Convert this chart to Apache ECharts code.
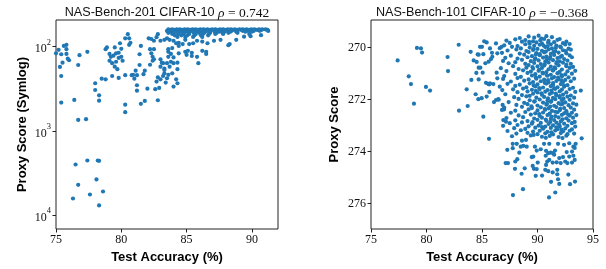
<!DOCTYPE html>
<html><head><meta charset="utf-8">
<script src="https://cdn.jsdelivr.net/npm/echarts@6/dist/echarts.min.js"></script>
<style>html,body{margin:0;padding:0;background:#fff}#c{width:606px;height:269px}</style>
</head><body><div id="c"></div><script>
// ---------------- data ----------------
const nb201XTicks = [75, 80, 85, 90];
const nb201YTicks = [100, 1000, 10000];
const nb101XTicks = [75, 80, 85, 90, 95];
const nb101YTicks = [270, 272, 274, 276];

const nb201Title = 'NAS-Bench-201 CIFAR-10 ';
const nb201Rho = ' = 0.742';
const nb101Title = 'NAS-Bench-101 CIFAR-10 ';
const nb101Rho = ' = \u22120.368';

// NAS-Bench-201: [test accuracy, proxy score magnitude]
const nb201Sparse = [
[75.0,120],[75.2,109],[75.4,123],[75.6,98],[75.8,95],[75.8,107],[75.8,122],[75.5,155],[75.3,174],[75.9,139],[76.0,145],[75.4,223],[75.4,461],[76.4,429],[76.7,741],[77.3,727],[76.8,126],[76.7,165],[77.4,115],[78.0,272],[78.0,327],[78.3,378],[78.3,438],[78.5,240],[78.8,244],[78.8,107],[78.9,102],[79.1,122],[79.2,132],[79.1,147],[79.3,157],[79.5,102],[79.4,128],[79.6,120],[79.8,118],[79.9,91],[80.0,106],[80.0,132],[79.8,136],[80.1,147],[79.6,151],[79.5,173],[79.7,185],[79.3,223],[79.8,235],[80.3,218],[80.5,71],[80.3,79.5],[80.6,79.5],[80.6,95],[80.7,90],[81.5,98],[81.4,123],[81.4,165],[80.8,218],[81.0,240],[80.9,216],[81.2,218],[81.1,193],[81.8,193],[81.7,212],[81.2,287],[81.2,333],[80.3,488],[80.3,600],[81.5,478],[81.8,441],[82.0,315],[82.1,79.5],[82.3,81],[82.5,85],[82.7,77],[82.8,71],[82.2,107],[82.5,107],[82.3,120],[82.4,132],[82.5,141],[82.4,147],[82.2,164],[83.0,141],[83.1,155],[83.0,173],[83.2,157],[83.3,182],[83.3,207],[82.8,231],[82.7,260],[83.0,244],[83.2,223],[83.5,237],[82.9,309],[82.6,320],[82.8,433],[83.0,85],[83.3,83],[83.5,65],[83.6,115],[83.5,157]
];
const nb201Tail = [
[77.4,2250],[76.5,2510],[78.2,2250],[78.3,2270],[78.1,3780],[76.7,4380],[78.6,5250],[77.6,5700],[76.3,6360],[78.3,7690]
];
const nb201Cluster = [
[83.5,79.5],[83.7,83],[84.0,85],[84.2,91],[84.4,90],[84.7,93],[84.9,83],[85.2,93],[85.5,91],[85.8,85],[86.2,87],[86.6,91],[87.1,85],[87.6,83],[88.2,96],[88.8,83],[89.4,76],[89.9,75],[90.7,73],[91.25,65],[89.8,70.7],[88.3,93],
[83.6,107],[83.9,104],[84.4,98],[84.4,120],[84.9,115],[85.1,112],[85.4,118],[85.0,125],[85.4,129],[85.8,132],[86.2,112],[86.5,115],[86.5,122],[85.9,157],[83.6,132],[83.8,122],[84.0,134],[83.8,151],[84.0,157],[84.3,155],[83.7,173],[84.3,185],[83.9,207],[83.6,216],[84.2,244],[84.3,272],[83.4,267],[84.0,298],[83.3,189]
];
// dense band near the top: [score, [accuracies]]
const nb201BandRows = [
[62.4,[83.6,83.9,84.25,84.5,84.85,85.1,85.45,85.7,86.05,86.3,86.6,86.95,87.2,87.55,87.8,88.15,88.4,88.7,89.05,89.3,89.6,89.95,90.2,90.55,90.8,91.05]],
[63.3,[83.75,84.05,84.4,84.7,84.95,85.3,85.55,85.9,86.2,86.45,86.8,87.1,87.35,87.7,87.95,88.3,88.55,88.9,89.2,89.45,89.8,90.1,90.4,90.7,91.2]],
[64.8,[83.65,83.95,84.3,84.65,85.0,85.35,85.75,86.1,86.5,86.85,87.25,87.6,88.0,88.45,88.85,89.3,89.7,90.15,90.6]],
[66.5,[83.8,84.15,84.55,84.9,85.25,85.65,86.0,86.4,86.75,87.15,87.5,87.9,88.35,88.8,89.5,90.0]],
[68.4,[83.6,84.0,84.4,84.8,85.15,85.55,85.95,86.35,86.8,87.3,87.75,88.2,88.9]],
[70.6,[83.9,84.35,84.75,85.2,85.7,86.25,86.7,87.2,87.8]],
[73.2,[84.1,84.6,85.05,85.6,86.1,86.65]],
[76.5,[84.3,84.9,85.5,86.2]]
];

// NAS-Bench-101: [test accuracy, proxy score]
const nb101Outliers = [
[77.4,270.5],[78.4,271.11],[78.6,271.41],[78.87,272.16],[79.14,270.02],[79.5,270.04],[79.6,270.2],[79.95,271.52],[80.32,271.66],[81.9,270.37],[81.94,270.91],[82.9,269.9],[82.93,272.43],[83.62,271.61],[83.71,272.25],[83.98,270.17],[84.25,270.5],[84.49,270.98],[84.43,271.8],[84.04,271.25],[84.52,270.56],[84.61,270.27],[84.82,269.98],[85.0,269.98],[85.12,270.26],[84.85,270.78],[84.7,271.23],[84.97,271.95],[85.12,272.66],[85.63,273.51],[85.3,270.61],[85.42,269.81],[85.66,271.42],
[84.7,270.28],[84.7,270.78],[85.2,269.77],[85.06,270.97],[84.67,271.99],[85.36,271.36],[85.57,271.41],[85.72,271.38],[85.66,271.71],[85.42,271.89],[86.02,271.41],[85.6,270.55],[85.72,270.04],[85.9,270.21],[85.93,270.36],[85.81,270.45],[86.26,269.85],[86.38,270.23],[86.32,270.97],[86.38,271.19],[86.26,272.02],[86.47,271.99],[86.08,272.1],[86.77,269.98],[86.83,271.64],[86.86,272.21],[86.98,272.38],[86.92,272.79],[87.16,272.85]
];
const nb101Core = [
[88.4,269.64],[89.2,269.58],[90.1,269.55],[90.35,269.66],[91.3,269.61],[92.0,269.68],[89.7,269.63],[90.8,269.57],
[87.2,269.74],[88.0,269.69],[88.9,269.72],[89.6,269.77],[90.6,269.68],[91.0,269.75],[91.8,269.71],[92.6,269.78],[90.25,269.73],[89.25,269.79],
[87.5,269.83],[88.6,269.78],[89.3,269.86],[89.9,269.81],[90.4,269.85],[91.5,269.8],[92.3,269.84],[92.9,269.87],[90.95,269.82],[91.2,269.88],
[87.0,269.92],[88.2,269.95],[88.9,269.88],[89.7,269.94],[90.2,269.9],[90.9,269.96],[91.7,269.93],[92.5,269.89],[90.55,269.93],[92.05,269.97],
[86.6,270.03],[87.7,269.98],[88.5,270.04],[89.3,270.01],[90.0,270.06],[90.7,269.99],[91.3,270.04],[92.1,270.0],[92.8,270.05],[89.65,270.07],[91.65,270.02],
[87.3,270.12],[88.1,270.08],[89.0,270.14],[89.6,270.1],[90.4,270.13],[91.0,270.08],[91.6,270.15],[92.3,270.11],[93.0,270.09],[90.75,270.16],[92.55,270.14],
[86.8,270.21],[88.4,270.24],[89.2,270.18],[89.9,270.22],[90.6,270.19],[91.2,270.25],[91.9,270.2],[92.6,270.23],[90.2,270.26],[91.45,270.17],
[87.6,270.32],[88.8,270.28],[89.5,270.34],[90.2,270.3],[90.8,270.35],[91.5,270.29],[92.2,270.33],[92.9,270.31],[91.15,270.37],[89.85,270.27],
[87.1,270.4],[88.2,270.43],[89.1,270.38],[89.8,270.42],[90.5,270.39],[91.1,270.44],[91.8,270.41],[92.4,270.45],[93.1,270.38],[90.85,270.46],[92.05,270.37],
[86.9,270.52],[88.6,270.48],[89.4,270.53],[90.1,270.5],[90.7,270.55],[91.4,270.49],[92.0,270.54],[92.7,270.51],[91.75,270.57],[89.75,270.47],
[87.4,270.61],[88.0,270.57],[88.9,270.63],[89.7,270.6],[90.3,270.64],[91.0,270.58],[91.7,270.62],[92.3,270.59],[93.0,270.63],[90.65,270.66],[92.6,270.67],
[87.8,270.72],[89.2,270.68],[90.0,270.73],[90.6,270.7],[91.2,270.74],[91.9,270.69],[92.6,270.72],[93.2,270.75],[89.55,270.76],[91.55,270.77],
[86.7,270.8],[88.3,270.83],[89.0,270.78],[89.6,270.82],[90.4,270.79],[91.0,270.84],[91.6,270.81],[92.2,270.85],[92.9,270.79],[90.15,270.86],[91.35,270.87],
[87.2,270.91],[88.7,270.88],[89.4,270.93],[90.1,270.9],[90.8,270.95],[91.4,270.89],[92.0,270.94],[92.7,270.92],[93.4,270.9],[90.45,270.97],
[88.0,271.02],[89.1,270.98],[89.8,271.03],[90.5,271.0],[91.2,271.05],[91.8,270.99],[92.5,271.04],[93.1,271.01],[90.85,271.07],[92.15,271.06],
[87.0,271.1],[88.5,271.13],[89.5,271.08],[90.2,271.12],[90.9,271.09],[91.5,271.14],[92.2,271.11],[92.8,271.15],[91.85,271.16],[89.85,271.16],
[86.9,271.21],[88.2,271.18],[89.2,271.23],[89.9,271.2],[90.6,271.24],[91.3,271.19],[91.9,271.22],[92.5,271.25],[93.3,271.2],[90.95,271.26],[92.15,271.27],
[87.6,271.31],[88.8,271.28],[89.6,271.33],[90.3,271.3],[91.0,271.34],[91.7,271.29],[92.3,271.33],[93.0,271.3],[90.65,271.36],[91.4,271.37],
[87.3,271.4],[88.4,271.43],[89.3,271.38],[90.0,271.42],[90.8,271.39],[91.4,271.44],[92.1,271.41],[92.7,271.45],[89.65,271.46],[92.4,271.47],
[86.6,271.51],[88.0,271.48],[89.0,271.53],[89.8,271.5],[90.5,271.54],[91.2,271.49],[91.8,271.53],[92.4,271.51],[93.2,271.55],[91.5,271.57],[90.15,271.56],
[87.8,271.61],[88.7,271.58],[89.5,271.63],[90.2,271.6],[90.9,271.64],[91.6,271.59],[92.2,271.62],[92.9,271.6],[93.9,271.66],[91.25,271.66],[89.85,271.67],
[88.2,271.72],[89.1,271.69],[90.0,271.73],[90.7,271.7],[91.3,271.74],[92.0,271.69],[92.6,271.73],[93.4,271.71],[91.65,271.77],[90.35,271.76],
[87.1,271.8],[88.6,271.83],[89.6,271.78],[90.4,271.82],[91.1,271.79],[91.7,271.84],[92.3,271.81],[93.0,271.85],[92.0,271.87],[89.3,271.86],
[87.9,271.91],[89.0,271.88],[89.9,271.93],[90.6,271.9],[91.4,271.94],[92.0,271.92],[92.7,271.89],[93.3,271.93],[90.95,271.96],[92.35,271.97],
[86.5,272.01],[88.3,271.98],[89.3,272.03],[90.2,272.0],[90.9,272.04],[91.6,271.99],[92.2,272.03],[92.9,272.01],[91.25,272.06],[89.75,272.07],
[87.4,272.1],[88.8,272.13],[89.7,272.08],[90.5,272.12],[91.2,272.09],[91.9,272.14],[92.5,272.11],[93.2,272.15],[90.85,272.16],[92.25,272.17],
[88.1,272.21],[89.1,272.18],[90.0,272.23],[90.8,272.2],[91.5,272.24],[92.1,272.19],[92.8,272.22],[93.5,272.2],[89.45,272.26],[91.15,272.27],
[87.0,272.31],[88.6,272.28],[89.5,272.33],[90.3,272.3],[91.0,272.34],[91.7,272.29],[92.4,272.33],[93.0,272.31],[92.05,272.36],[90.65,272.37],
[86.8,272.4],[88.0,272.43],[89.2,272.38],[90.0,272.42],[90.7,272.39],[91.3,272.44],[92.0,272.41],[92.6,272.45],[93.3,272.39],[91.6,272.47],
[87.6,272.51],[88.9,272.48],[89.8,272.53],[90.5,272.5],[91.1,272.54],[91.8,272.49],[92.4,272.53],[93.1,272.51],[90.15,272.56],[92.75,272.57],
[88.3,272.61],[89.4,272.58],[90.2,272.63],[90.9,272.6],[91.6,272.64],[92.2,272.59],[92.9,272.62],[93.5,272.6],[91.25,272.66],
[87.2,272.71],[88.7,272.68],[89.7,272.73],[90.4,272.7],[91.2,272.74],[91.9,272.69],[92.6,272.72],[93.2,272.7],[90.75,272.77],[92.25,272.76],
[88.0,272.8],[89.1,272.83],[90.0,272.78],[90.8,272.82],[91.5,272.79],[92.1,272.84],[92.8,272.81],[89.55,272.87],[91.15,272.86],[93.35,272.86],
[87.5,272.91],[88.6,272.88],[89.5,272.93],[90.3,272.9],[91.0,272.94],[91.7,272.89],[92.4,272.93],[93.1,272.91],[91.95,272.96],
[86.9,273.01],[88.2,272.98],[89.2,273.03],[90.1,273.0],[90.7,273.04],[91.4,272.99],[92.0,273.03],[92.7,273.01],[93.4,273.04],[90.4,273.06],[91.7,273.07],
[87.9,273.1],[88.9,273.13],[89.8,273.08],[90.5,273.12],[91.2,273.09],[91.8,273.14],[92.5,273.11],[93.1,273.15],[92.15,273.16],
[87.3,273.21],[88.5,273.18],[89.6,273.23],[90.2,273.2],[90.9,273.24],[91.6,273.19],[92.3,273.22],[92.9,273.2],[91.25,273.26],
[88.1,273.31],[89.1,273.28],[90.0,273.33],[90.7,273.3],[91.4,273.34],[92.1,273.29],[92.7,273.33],[93.3,273.31],[89.65,273.36],
[87.7,273.41],[89.4,273.38],[90.4,273.43],[91.1,273.4],[91.9,273.44],[92.6,273.39],[90.75,273.47],[92.25,273.48]
];
const nb101Lower = [
[87.28,273.93],[87.34,274.44],[87.77,273.7],[88.13,273.7],[87.77,273.87],[88.0,274.38],[88.18,274.29],[87.97,274.66],[87.79,275.67],[88.57,274.85],[88.69,275.44],[88.36,274.04],[88.49,273.81],[88.72,273.78],[88.85,274.64],[88.6,273.58],[88.96,273.55],[89.48,274.21],[89.57,274.55],[89.68,274.66],[89.93,274.67],[90.02,274.42],[90.41,274.92],[90.77,274.51],[90.7,274.7],[90.97,274.75],[91.22,275.16],[91.04,275.76],[91.6,275.57],[91.37,274.8],[91.78,274.7],[91.85,275.06],[91.96,275.24],[91.73,274.41],[91.37,274.42],[91.06,274.32],[90.88,274.38],[90.74,274.16],[92.78,274.88],[92.93,275.25],[93.38,275.15],[93.98,273.49],[92.69,274.44],[93.11,274.42],[93.35,274.32],[93.23,274.16],[92.86,274.19],[92.5,274.38],[92.09,274.44],[91.96,274.25],[92.3,274.21],[92.63,274.02],[93.11,274.0],[93.35,273.86],[91.78,274.87],[91.42,274.06],[91.19,274.04],[91.58,273.96],[91.5,274.12],[90.97,274.06],[90.77,273.97],[90.29,273.91],[89.93,273.96],[89.77,273.81],[89.62,274.19],[89.03,273.81],[90.59,273.7],[91.06,273.7],[91.85,273.7],[92.39,273.74],[92.86,273.68],[93.23,273.81],[93.44,273.7],[89.84,274.93],[87.13,274.44]
];

// ---------------- chart ----------------
function fromRows(rows) {
  const out = [];
  rows.forEach(r => r[1].forEach(x => out.push([x, r[0]])));
  return out;
}
const nb201Data = nb201Sparse.concat(nb201Tail, nb201Cluster, fromRows(nb201BandRows));
const nb101Data = nb101Outliers.concat(nb101Core, nb101Lower);

const BLUE = '#1f77b4';
const SANS = 'Liberation Sans';
const SERIF = 'Liberation Serif';
const FRAME = '#222';

function xAxisCfg(idx, min, max, ticks) {
  return {
    gridIndex: idx, type: 'value', min: min, max: max,
    axisLine: {show: false}, splitLine: {show: false},
    axisTick: {show: true, length: 3.5, lineStyle: {color: FRAME}, customValues: ticks},
    axisLabel: {customValues: ticks, fontFamily: SERIF, fontSize: 12, color: '#111', margin: 5},
    name: 'Test Accuracy (%)', nameLocation: 'middle', nameGap: 20,
    nameTextStyle: {fontFamily: SANS, fontWeight: 'bold', fontSize: 13, color: '#000'}
  };
}

const titleRich = {
  a: {fontFamily: SANS, fontSize: 12.6, fill: '#111'},
  r: {fontFamily: SERIF, fontStyle: 'italic', fontSize: 13.5, fill: '#111'},
  m: {fontFamily: SERIF, fontSize: 13.5, fill: '#111'}
};

const option = {
  animation: false,
  grid: [
    {left: 56, top: 20, width: 222, height: 209, show: true, borderColor: FRAME, borderWidth: 1},
    {left: 371, top: 20, width: 222, height: 209, show: true, borderColor: FRAME, borderWidth: 1}
  ],
  xAxis: [
    xAxisCfg(0, 75, 92, nb201XTicks),
    xAxisCfg(1, 75, 95, nb101XTicks)
  ],
  yAxis: [
    {
      gridIndex: 0, type: 'log', logBase: 10, min: 48.2, max: 14650, inverse: true,
      axisLine: {show: false}, splitLine: {show: false}, minorTick: {show: false},
      axisTick: {show: true, length: 3.5, lineStyle: {color: FRAME}, customValues: nb201YTicks},
      axisLabel: {
        customValues: nb201YTicks, margin: 5,
        formatter: v => '{b|10}{s|' + Math.round(Math.log10(v)) + '}',
        rich: {
          b: {fontFamily: SERIF, fontSize: 12, color: '#111', lineHeight: 17, verticalAlign: 'bottom'},
          s: {fontFamily: SERIF, fontSize: 8.5, color: '#111', lineHeight: 17, verticalAlign: 'top'}
        }
      },
      name: 'Proxy Score (Symlog)', nameLocation: 'middle', nameGap: 27,
      nameTextStyle: {fontFamily: SANS, fontWeight: 'bold', fontSize: 13, color: '#000'}
    },
    {
      gridIndex: 1, type: 'value', min: 268.95, max: 276.97, inverse: true,
      axisLine: {show: false}, splitLine: {show: false},
      axisTick: {show: true, length: 3.5, lineStyle: {color: FRAME}, customValues: nb101YTicks},
      axisLabel: {customValues: nb101YTicks, fontFamily: SERIF, fontSize: 12, color: '#111', margin: 5},
      name: 'Proxy Score', nameLocation: 'middle', nameGap: 30,
      nameTextStyle: {fontFamily: SANS, fontWeight: 'bold', fontSize: 13, color: '#000'}
    }
  ],
  series: [
    {type: 'scatter', xAxisIndex: 0, yAxisIndex: 0, data: nb201Data, symbolSize: 4.2,
     itemStyle: {color: BLUE, opacity: 1}, silent: true},
    {type: 'scatter', xAxisIndex: 1, yAxisIndex: 1, data: nb101Data, symbolSize: 4.2,
     itemStyle: {color: BLUE, opacity: 1}, silent: true}
  ],
  graphic: [
    {type: 'text', x: 167, y: 13, silent: true,
     style: {text: '{a|' + nb201Title + '}{r|\u03c1}{m|' + nb201Rho + '}', align: 'center', verticalAlign: 'middle', rich: titleRich}},
    {type: 'text', x: 482, y: 13, silent: true,
     style: {text: '{a|' + nb101Title + '}{r|\u03c1}{m|' + nb101Rho + '}', align: 'center', verticalAlign: 'middle', rich: titleRich}}
  ]
};

const chart = echarts.init(document.getElementById('c'), null, {renderer: 'canvas'});
chart.setOption(option);
</script></body></html>
